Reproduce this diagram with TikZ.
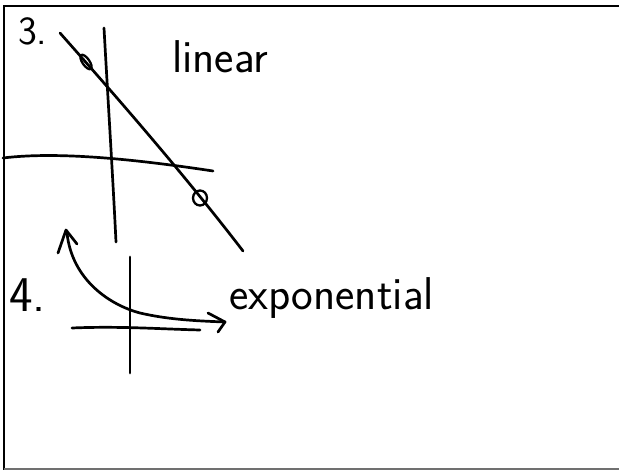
\documentclass[tikz,border=0pt]{standalone}
\usepackage{tikz}
\usetikzlibrary{positioning, calc}
\definecolor{inkblack}{HTML}{000000}
\definecolor{edgegray}{HTML}{707070}
\tikzset{
  pen/.style={draw=inkblack, line width=2.7pt, line cap=round, line join=round},
  hand/.style={inner sep=0pt, font=\sffamily\fontsize{46}{50}\selectfont},
}

\begin{document}
\begin{tikzpicture}[x=1pt, y=-1pt]
\useasboundingbox (0,0) rectangle (619,470);
% Page frame
\fill[white] (0,0) rectangle (619,470);
\draw[inkblack, line width=2.6pt] (4,471) -- (4,6) -- (619,6);
\draw[edgegray, line width=1.5pt] (4,469) -- (619,469);
% Problem 3 (top)
\node[hand, anchor=base west, font=\sffamily\fontsize{40}{44}\selectfont] (num3) at (18,45) {3.};
\node[hand, anchor=base west] (linlbl) at (172,73) {linear};
\draw[pen] (104,28) .. controls (108,100) and (113,180) .. (116,242);
\draw[pen] (3,158) .. controls (60,151) and (140,160) .. (213,171);
\coordinate (lnA) at (60,33);
\coordinate (lnB) at (243,251);
\draw[pen] (lnA) .. controls (130,112) and (190,182) .. (lnB);
\draw[pen, line width=2.3pt] (86,62) ellipse [x radius=3.5pt, y radius=8.5pt, rotate=35];
\draw[pen, line width=2.3pt] (200,198) ellipse [x radius=7pt, y radius=7.5pt];
% Problem 4 (bottom)
\node[hand, anchor=base west, font=\sffamily\fontsize{50}{54}\selectfont] (num4) at (9,312) {4.};
\node[hand, anchor=base west] (explbl) at (229,310) {exponential};
\draw[pen] (130,257) -- (130,373);
\draw[pen] (72,328) .. controls (120,326) and (160,329) .. (200,330);
\coordinate (upTip) at (66,230);
\coordinate (rtTip) at (225,322);
\draw[pen] (67,233) .. controls (72,280) and (110,305) .. (140,313) .. controls (170,320) and (200,321) .. (rtTip);
\draw[pen] (58,253) -- (upTip) -- (77,244);
\draw[pen] (208,313) -- (rtTip) -- (218,332);
\end{tikzpicture}
\end{document}
